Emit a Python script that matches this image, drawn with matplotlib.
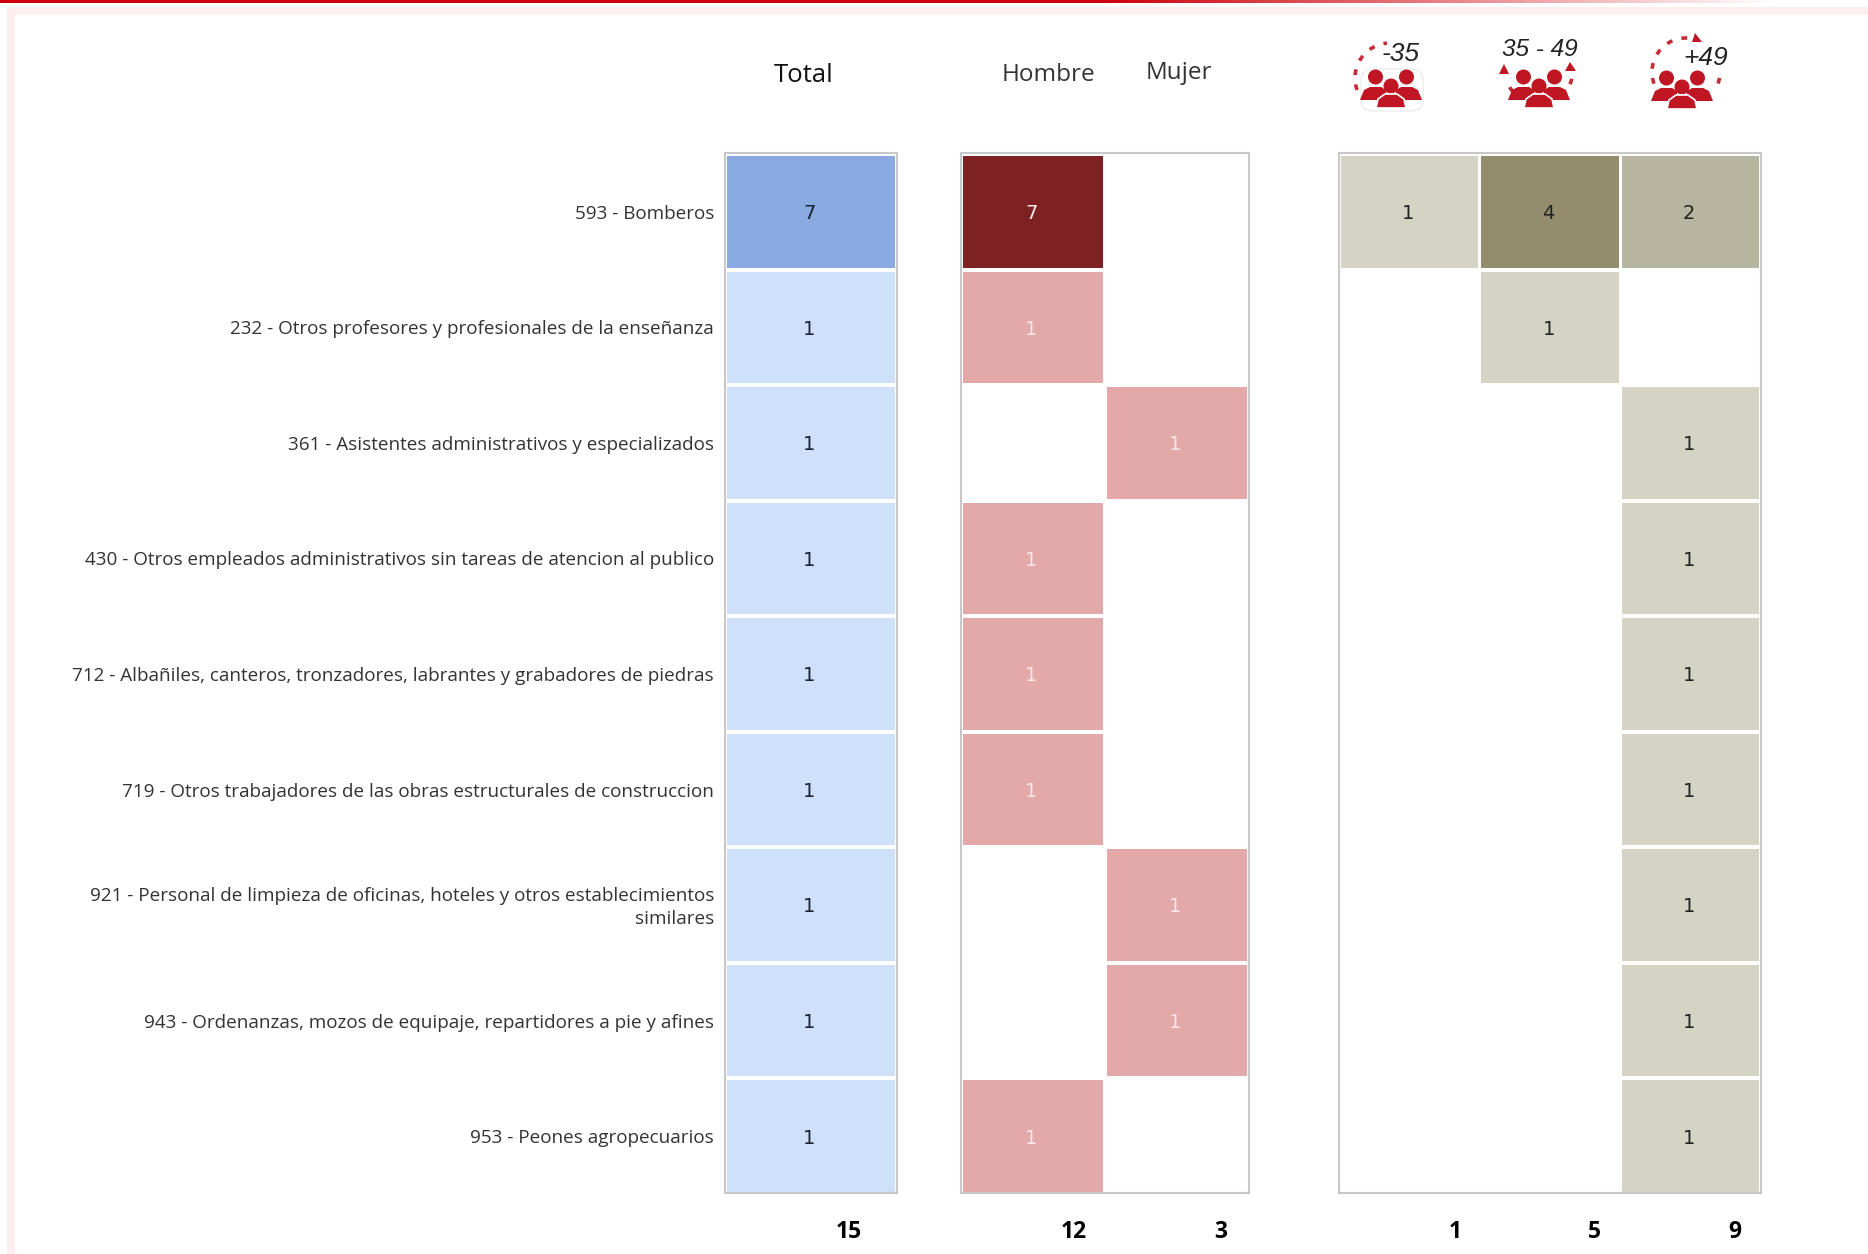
import numpy as np
import matplotlib
matplotlib.use('Agg')
import matplotlib.pyplot as plt
from matplotlib.patches import Rectangle, Circle, Polygon, FancyBboxPatch

W, H = 1868, 1254

labels = ['593 - Bomberos',
          '232 - Otros profesores y profesionales de la enseñanza',
          '361 - Asistentes administrativos y especializados',
          '430 - Otros empleados administrativos sin tareas de atencion al publico',
          '712 - Albañiles, canteros, tronzadores, labrantes y grabadores de piedras',
          '719 - Otros trabajadores de las obras estructurales de construccion',
          '921 - Personal de limpieza de oficinas, hoteles y otros establecimientos\nsimilares',
          '943 - Ordenanzas, mozos de equipaje, repartidores a pie y afines',
          '953 - Peones agropecuarios']

total = [[7], [1], [1], [1], [1], [1], [1], [1], [1]]
genero = [[7, 0], [1, 0], [0, 1], [1, 0], [1, 0], [1, 0], [0, 1], [0, 1], [1, 0]]
edad = [[1, 4, 2], [0, 1, 0], [0, 0, 1], [0, 0, 1], [0, 0, 1],
        [0, 0, 1], [0, 0, 1], [0, 0, 1], [0, 0, 1]]

total_foot = [15]
genero_foot = [12, 3]
edad_foot = [1, 5, 9]

col_total = {1: '#cfe0fa', 7: '#89a9e1'}
col_genero = {1: '#e3a8a8', 7: '#7e2123'}
col_edad = {1: '#d5d3c3', 2: '#b7b5a0', 4: '#938d6d'}

RED = '#c01522'

plt.rcParams['font.family'] = ['Open Sans', 'DejaVu Sans']
fig = plt.figure(figsize=(W / 100, H / 100), dpi=100)


def px_axes(x0, y0, x1, y1):
    return fig.add_axes([x0 / W, 1 - y1 / H, (x1 - x0) / W, (y1 - y0) / H])


# fondo, en pixeles
bg = fig.add_axes([0, 0, 1, 1])
grad = np.ones((1, 512, 3))
t = np.clip((np.arange(512) / 511 - 0.59) / 0.36, 0, 1)
grad[0, :, 0] = 0.80 + 0.20 * t
grad[0, :, 1] = t
grad[0, :, 2] = 0.04 + 0.96 * t
bg.imshow(grad, extent=[0, W, 3, 0], aspect='auto')
bg.add_patch(Rectangle((7, 7), W, 8, color='#faeeee', lw=0))
bg.add_patch(Rectangle((7, 7), 8, H, color='#faeeee', lw=0))
bg.set_xlim(0, W)
bg.set_ylim(H, 0)
bg.axis('off')


def panel(x0, x1, values, colors, txt, foot, foot_x):
    ax = px_axes(x0, 153, x1, 1193)
    n_rows = len(values)
    n_cols = len(values[0])
    ax.set_xlim(0, n_cols)
    ax.set_ylim(n_rows, 0)
    ax.set_xticks([])
    ax.set_yticks([])
    for s in ax.spines.values():
        s.set_color('#c8c8c8')
        s.set_linewidth(1.5)
    for r, row in enumerate(values):
        for c, v in enumerate(row):
            if v == 0:
                continue
            ax.add_patch(Rectangle((c + 0.012, r + 0.026), 0.976, 0.965,
                                   facecolor=colors[v], edgecolor='none'))
            ax.text(c + 0.49, r + 0.525, str(v), ha='center', va='center',
                    fontsize=14, color=txt, family='DejaVu Sans')
    for fx, v in zip(foot_x, foot):
        bg.text(fx, 1232, str(v), ha='center', va='center', fontsize=16.5,
                fontweight='bold', color='black')


panel(725, 897, total, col_total, '#1a2333', total_foot, [849])
panel(961, 1249, genero, col_genero, '#f6e6e6', genero_foot, [1074, 1221])
panel(1339, 1761, edad, col_edad, '#222222', edad_foot, [1455, 1594, 1735])

# etiquetas de las filas
row_h = (1193 - 153) / len(labels)
for i, lab in enumerate(labels):
    bg.text(714, 153 + row_h * (i + 0.5) + 3, lab, ha='right', va='center',
            fontsize=13.6, color='#333333', linespacing=1.35)

# cabeceras
bg.text(804, 75, 'Total', ha='center', va='center', fontsize=18.5, color='#111111')
bg.text(1048, 75, 'Hombre', ha='center', va='center', fontsize=17.5, color='#333333', fontweight='medium')
bg.text(1179, 73, 'Mujer', ha='center', va='center', fontsize=17.5, color='#333333', fontweight='medium')


def people(cx, cy):
    for dx, dy, r in [(-15.5, -10, 7.5), (15.5, -10, 7.5), (0, -1, 7.5)]:
        bg.add_patch(Circle((cx + dx, cy + dy), r, color=RED, lw=0, zorder=3))
    for sgn in (-1, 1):
        bg.add_patch(Polygon([(cx + sgn * 31, cy + 13), (cx + sgn * 27, cy + 3),
                              (cx + sgn * 21, cy), (cx + sgn * 10, cy),
                              (cx + sgn * 5, cy + 3), (cx + sgn * 5, cy + 13)],
                             color=RED, lw=0, zorder=3))
    bg.add_patch(Polygon([(cx - 15, cy + 21), (cx - 13, cy + 12), (cx - 6, cy + 7),
                          (cx + 6, cy + 7), (cx + 13, cy + 12), (cx + 15, cy + 21)],
                         facecolor=RED, edgecolor='white', lw=1.2, zorder=4))


def arc(cx, cy, r, a0, a1):
    a = np.radians(np.linspace(a0, a1, 60))
    bg.plot(cx + r * np.cos(a), cy + r * np.sin(a), color=RED, lw=2.6,
            ls=(0, (1.6, 2.6)), zorder=2, alpha=0.9)


def arrow(x0, y0, x1, y1, x2, y2):
    bg.add_patch(Polygon([(x0, y0), (x1, y1), (x2, y2)], color=RED, lw=0, zorder=3))


icon_font = dict(ha='center', va='center', style='italic', color='#222222',
                 family='Liberation Sans', zorder=6)

# -35
arc(1390, 78, 35, 160, 265)
bg.add_patch(FancyBboxPatch((1364, 72), 56, 36, boxstyle='round,pad=3,rounding_size=12',
                            fc='white', ec='#ececec', lw=1, zorder=2.5))
people(1391, 87)
bg.text(1401, 54, '-35', fontsize=19, **icon_font)

# 35 - 49
arc(1539, 70, 34, 140, 165)
arc(1539, 70, 34, 15, 40)
arrow(1499, 74, 1509, 74, 1504, 64)
arrow(1565, 71, 1576, 71, 1570, 62)
people(1539, 87)
bg.text(1540, 50, '35 - 49', fontsize=17.6, **icon_font)

# +49
arc(1686, 72, 34, 160, 282)
arc(1686, 72, 34, 10, 35)
arrow(1692, 42, 1702, 42, 1695, 33)
people(1682, 88)
bg.text(1706, 58, '+49', fontsize=19, **icon_font)

fig.savefig('out.png', dpi=100)
